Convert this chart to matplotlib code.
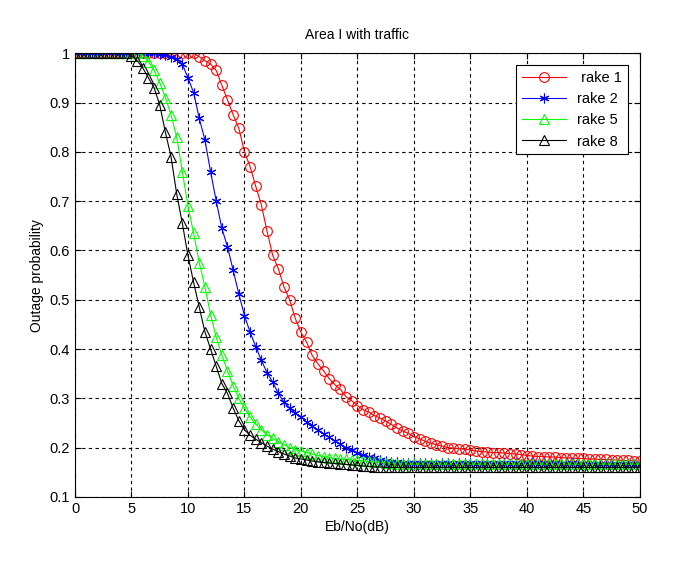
import numpy as np
import matplotlib
matplotlib.use("Agg")
import matplotlib.pyplot as plt

# Eb/No axis, one sample every 0.5 dB
ebno = np.arange(0, 50.5, 0.5)

rake1 = [1.0] * 21 + [
    1.0, 0.993, 0.985, 0.978, 0.965, 0.935, 0.905, 0.875, 0.848, 0.80,
    0.77, 0.73, 0.692, 0.639, 0.59, 0.563, 0.526, 0.50, 0.462, 0.434,
    0.414, 0.387, 0.37, 0.356, 0.34, 0.328, 0.318, 0.303, 0.295, 0.285,
    0.277, 0.272, 0.265, 0.26, 0.254, 0.247, 0.24, 0.234, 0.229, 0.222,
    0.218, 0.213, 0.209, 0.206, 0.203, 0.20, 0.199, 0.198, 0.197, 0.195,
    0.193, 0.192, 0.191, 0.19, 0.19, 0.189, 0.188, 0.187, 0.186, 0.184,
    0.183, 0.182, 0.182, 0.181, 0.181, 0.18, 0.179, 0.179, 0.178, 0.178,
    0.177, 0.177, 0.176, 0.176, 0.175, 0.175, 0.174, 0.174, 0.173, 0.173,
]

rake2 = [1.0] * 15 + [
    0.998, 0.996, 0.993, 0.988, 0.978, 0.95, 0.92, 0.868, 0.824, 0.76,
    0.70, 0.645, 0.607, 0.56, 0.512, 0.468, 0.434, 0.405, 0.377, 0.352,
    0.333, 0.31, 0.292, 0.28, 0.27, 0.263, 0.252, 0.243, 0.236, 0.228,
    0.221, 0.214, 0.207, 0.20, 0.195, 0.19, 0.186, 0.182, 0.178, 0.175,
    0.173, 0.171, 0.17, 0.169, 0.169, 0.168, 0.168, 0.169, 0.168, 0.167,
    0.168, 0.168, 0.167, 0.168, 0.169, 0.168, 0.167, 0.168, 0.168, 0.167,
    0.168, 0.168, 0.167, 0.168, 0.167, 0.168, 0.168, 0.167, 0.168, 0.167,
    0.168, 0.167, 0.167, 0.168, 0.167, 0.167, 0.167, 0.167, 0.167, 0.167,
    0.167, 0.167, 0.167, 0.167, 0.167, 0.167,
]

rake5 = [1.0] * 12 + [
    0.995, 0.983, 0.965, 0.94, 0.91, 0.875, 0.83, 0.76, 0.69, 0.635,
    0.575, 0.526, 0.47, 0.424, 0.387, 0.356, 0.325, 0.30, 0.28, 0.262,
    0.248, 0.236, 0.226, 0.219, 0.212, 0.206, 0.20, 0.196, 0.193, 0.19,
    0.187, 0.184, 0.182, 0.18, 0.178, 0.177, 0.176, 0.175, 0.174, 0.173,
    0.172, 0.171, 0.17, 0.169, 0.168, 0.167, 0.167, 0.166, 0.166, 0.166,
    0.166, 0.166, 0.166, 0.166, 0.166, 0.166, 0.166, 0.166, 0.166, 0.166,
    0.166, 0.166, 0.166, 0.166, 0.166, 0.166, 0.166, 0.166, 0.166, 0.166,
    0.166, 0.166, 0.166, 0.166, 0.166, 0.166, 0.166, 0.166, 0.166, 0.166,
    0.166, 0.166, 0.166, 0.166, 0.166, 0.166, 0.166, 0.166, 0.166,
]

rake8 = [1.0] * 10 + [
    0.995, 0.985, 0.97, 0.95, 0.93, 0.895, 0.84, 0.79, 0.715, 0.655,
    0.59, 0.535, 0.485, 0.435, 0.40, 0.365, 0.33, 0.31, 0.28, 0.255,
    0.236, 0.225, 0.217, 0.21, 0.203, 0.197, 0.192, 0.187, 0.183, 0.179,
    0.177, 0.175, 0.173, 0.171, 0.17, 0.169, 0.168, 0.167, 0.166, 0.165,
    0.164, 0.163, 0.162, 0.161, 0.161, 0.16, 0.16, 0.16, 0.16, 0.16,
    0.16, 0.16, 0.16, 0.16, 0.16, 0.16, 0.16, 0.16, 0.16, 0.16,
    0.16, 0.16, 0.16, 0.16, 0.16, 0.16, 0.16, 0.16, 0.16, 0.16,
    0.16, 0.16, 0.16, 0.16, 0.16, 0.16, 0.16, 0.16, 0.16, 0.16,
    0.16, 0.16, 0.16, 0.16, 0.16, 0.16, 0.16, 0.16, 0.16, 0.16,
    0.16,
]

labels = [" rake 1", "rake 2", "rake 5", "rake 8"]

plt.rcParams["font.family"] = ["Liberation Sans", "DejaVu Sans"]
plt.rcParams["font.size"] = 10

fig = plt.figure(figsize=(6.85, 5.66), dpi=100)
ax = fig.add_axes([0.1095, 0.122, 0.8245, 0.784])

st = {"lw": 0.8, "ms": 7, "mfc": "none", "mew": 0.8}
ax.plot(ebno, rake1, color="r", marker="o", label=labels[0], **st)
ax.plot(ebno, rake2, color="b", marker=(6, 2, 0), label=labels[1], **st)
ax.plot(ebno, rake5, color="#00ff00", marker="^", label=labels[2], **st)
ax.plot(ebno, rake8, color="k", marker="^", label=labels[3], **st)

ax.set_xlim(0, 50)
ax.set_ylim(0.1, 1.0)
ax.set_xticks(np.arange(0, 51, 5))
ax.set_yticks(np.arange(0.1, 1.01, 0.1))
ax.set_yticklabels(["0.1", "0.2", "0.3", "0.4", "0.5", "0.6", "0.7", "0.8", "0.9", "1"])
ax.grid(True, color="k", ls=(0, (3, 3)), lw=0.8)
ax.tick_params(direction="in", top=True, right=True, length=4, labelsize=10.5)
for sp in ax.spines.values():
    sp.set_linewidth(0.8)

ax.set_xlabel("Eb/No(dB)", labelpad=3)
ax.set_ylabel("Outage probability", labelpad=4)
ax.set_title("Area I with traffic", fontsize=10, pad=10)

leg = ax.legend(loc="upper right", fancybox=False, edgecolor="k",
                framealpha=1, handlelength=3.0, borderaxespad=0.8,
                labelspacing=0.5, fontsize=10.5)
leg.get_frame().set_linewidth(0.8)

fig.savefig("out.png", dpi=100)
